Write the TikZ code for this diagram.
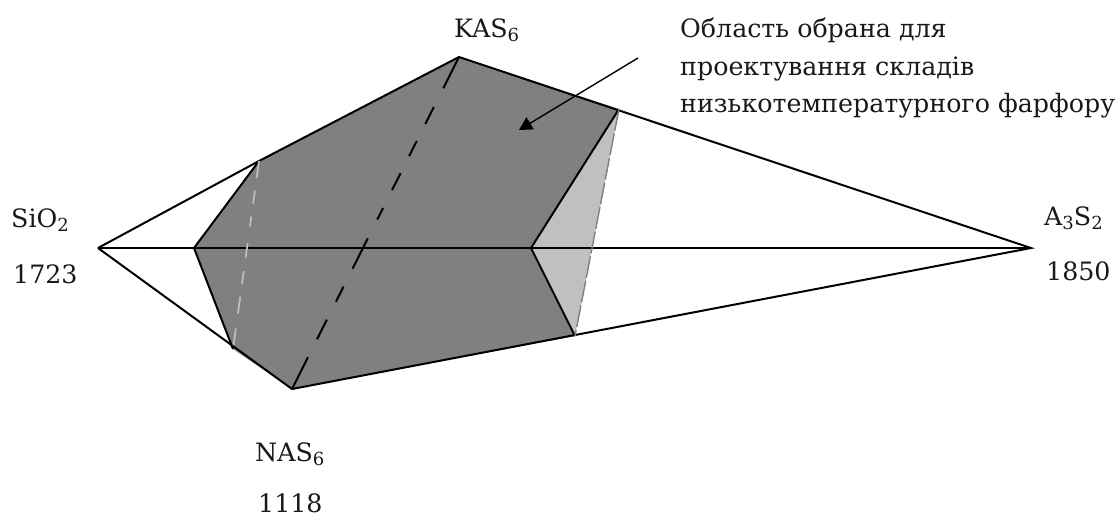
\documentclass[tikz,border=0pt]{standalone}
\usepackage{fontspec}
\setmainfont{DejaVu Serif}
\usetikzlibrary{arrows.meta}
\definecolor{darkfill}{RGB}{128,128,128}
\definecolor{lightfill}{RGB}{192,192,192}
\tikzset{
  edge/.style={draw=black,line width=2pt},
  lab/.style={inner sep=0pt,font=\fontsize{25.3}{30}\selectfont,text=black!90,anchor=base west},
}
\newcommand{\dn}[1]{\raisebox{-4pt}{\fontsize{18}{18}\selectfont #1}}
\begin{document}
\begin{tikzpicture}[x=1pt,y=-1pt]
\useasboundingbox (0,0) rectangle (1119,517);
\coordinate (S) at (98,248);
\coordinate (A) at (1031,248);
\coordinate (K) at (459,57);
\coordinate (N) at (292,389);
\coordinate (p1) at (259,161);
\coordinate (p2) at (619,109);
\coordinate (p3) at (531,248);
\coordinate (p4) at (575,336);
\coordinate (p5) at (233,349);
\coordinate (p6) at (194,248);
\coordinate (tail) at (638,58);
\coordinate (tip) at (519,130);
\fill[lightfill] (p2) -- (p3) -- (p4) -- cycle;
\fill[darkfill] (p1) -- (K) -- (p2) -- (p3) -- (p4) -- (N) -- (p5) -- (p6) -- cycle;
\draw[edge] (S) -- (A);
\draw[edge] (S) -- (p1) -- (K) -- (A) -- (N) -- (S);
\draw[edge] (p1) -- (p6) -- (p5);
\draw[edge] (p2) -- (p3) -- (p4);
\draw[draw=lightfill,line width=1.7pt,dash pattern=on 17pt off 13pt on 13pt off 13pt on 10pt off 17pt on 15pt off 13pt on 13pt off 13pt on 17pt off 15pt on 17pt off 30pt] (p1) -- (p5);
\draw[draw=black,line width=2pt,dash pattern=on 35pt off 21pt on 19pt off 19pt on 17pt off 19pt on 19pt off 20pt on 13pt off 21pt on 34pt off 20pt on 17pt off 20pt on 22pt off 20pt on 40pt off 40pt] (K) -- (N);
\draw[draw=darkfill,line width=1.4pt,dash pattern=on 22pt off 3pt] (p2) -- (p4);
\draw[draw=black,line width=1.4pt,-{Triangle[length=13pt,width=14pt]}] (tail) -- (tip);
\node[lab] (kas) at (454,37) {KAS\dn{6}};
\node[lab] (sio) at (11,227) {SiO\dn{2}};
\node[lab] (t1) at (13,283) {1723};
\node[lab] (a3) at (1044,225) {A\dn{3}S\dn{2}};
\node[lab] (t2) at (1046,280) {1850};
\node[lab] (nas) at (255,461) {NAS\dn{6}};
\node[lab] (t3) at (258,512) {1118};
\node[lab] (l1) at (680,37) {Область обрана для};
\node[lab] (l2) at (680,75) {проектування складів};
\node[lab] (l3) at (680,112) {низькотемпературного фарфору};
\end{tikzpicture}
\end{document}
